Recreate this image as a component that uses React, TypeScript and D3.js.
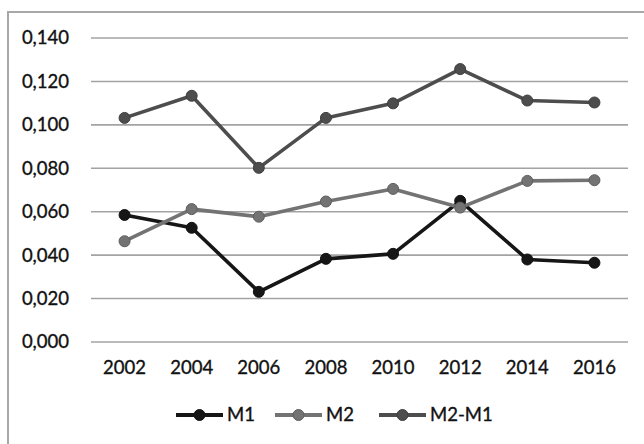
import React, { useEffect, useRef } from 'react';
import * as d3 from 'd3';

const years = ['2002', '2004', '2006', '2008', '2010', '2012', '2014', '2016'];
const m1 = [0.0585, 0.0526, 0.0231, 0.0383, 0.0406, 0.065, 0.038, 0.0365];
const m2 = [0.0464, 0.0612, 0.0577, 0.0647, 0.0705, 0.0619, 0.0742, 0.0745];
const m2m1 = [0.1032, 0.1134, 0.0802, 0.1032, 0.1099, 0.1257, 0.1112, 0.1103];
const yTicks = [0, 0.02, 0.04, 0.06, 0.08, 0.1, 0.12, 0.14];

const series = [
  { name: 'M1', values: m1, color: '#161616' },
  { name: 'M2', values: m2, color: '#737373' },
  { name: 'M2-M1', values: m2m1, color: '#4d4d4d' },
];

const LineChart: React.FC = () => {
  const svgRef = useRef<SVGSVGElement | null>(null);

  useEffect(() => {
    const svg = d3.select(svgRef.current);
    svg.selectAll('*').remove();
    const width = 644;
    const height = 444;
    const margin = { top: 38, right: 16, bottom: 105, left: 91 };
    const font = 'Lato, "Open Sans", sans-serif';

    svg.append('rect').attr('width', width).attr('height', height).attr('fill', '#fff');
    // chart border (only top and left visible)
    svg
      .append('rect')
      .attr('x', 8)
      .attr('y', 12)
      .attr('width', width + 20)
      .attr('height', height + 20)
      .attr('fill', 'none')
      .attr('stroke', '#a8a8a8')
      .attr('stroke-width', 2);

    const x = d3
      .scaleBand()
      .domain(years)
      .range([margin.left, width - margin.right]);

    const y = d3
      .scaleLinear()
      .domain([0, 0.14])
      .range([height - margin.bottom + 3, margin.top]);

    const fmt = (v: number) => v.toFixed(3).replace('.', ',');

    const label = (sel: d3.Selection<SVGTextElement, any, any, any>) =>
      sel
        .attr('font-family', font)
        .attr('font-size', 18.5)
        .attr('fill', '#111')
        .attr('stroke', '#111')
        .attr('stroke-width', 0.35);

    svg
      .append('g')
      .selectAll('line')
      .data(yTicks)
      .enter()
      .append('line')
      .attr('x1', margin.left)
      .attr('x2', width - margin.right)
      .attr('y1', d => y(d))
      .attr('y2', d => y(d))
      .attr('stroke', '#a3a3a3')
      .attr('stroke-width', 1.6);

    svg
      .append('g')
      .selectAll('text')
      .data(yTicks)
      .enter()
      .append('text')
      .attr('x', 69)
      .attr('y', d => y(d))
      .attr('dy', '0.35em')
      .attr('text-anchor', 'end')
      .call(label)
      .text(d => fmt(d));

    svg
      .append('g')
      .selectAll('text')
      .data(years)
      .enter()
      .append('text')
      .attr('x', d => x(d)! + x.bandwidth() / 2)
      .attr('y', 368)
      .attr('dy', '0.35em')
      .attr('text-anchor', 'middle')
      .call(label)
      .text(d => d);

    const line = d3
      .line<number>()
      .x((_, i) => x(years[i])! + x.bandwidth() / 2)
      .y(d => y(d));

    series.forEach(s => {
      const g = svg.append('g');
      g.append('path')
        .attr('d', line(s.values))
        .attr('fill', 'none')
        .attr('stroke', s.color)
        .attr('stroke-width', 3.6)
        .attr('stroke-linejoin', 'round');
      g.selectAll('circle')
        .data(s.values)
        .enter()
        .append('circle')
        .attr('cx', (_, i) => x(years[i])! + x.bandwidth() / 2)
        .attr('cy', d => y(d))
        .attr('r', 5.5)
        .attr('fill', s.color)
        .attr('stroke', d3.color(s.color)!.darker(0.6).toString())
        .attr('stroke-width', 1);
    });

    // legend
    const legendY = 415;
    const itemWidths = [99, 104, 120];
    let lx = 176;
    series.forEach((s, i) => {
      const g = svg.append('g').attr('transform', `translate(${lx},${legendY})`);
      g.append('line')
        .attr('x1', 0)
        .attr('x2', 47)
        .attr('y1', 0)
        .attr('y2', 0)
        .attr('stroke', s.color)
        .attr('stroke-width', 4);
      g.append('circle')
        .attr('cx', 23.5)
        .attr('cy', 0)
        .attr('r', 5.5)
        .attr('fill', s.color)
        .attr('stroke', d3.color(s.color)!.darker(0.6).toString())
        .attr('stroke-width', 1);
      g.append('text')
        .attr('x', 51)
        .attr('y', 0)
        .attr('dy', '0.35em')
        .call(label)
        .text(s.name);
      lx += itemWidths[i];
    });
  }, []);

  return (
    <div style={{ position: 'fixed', left: 0, top: 0 }}>
      <svg ref={svgRef} width={644} height={444} style={{ display: 'block' }}></svg>
    </div>
  );
};

export default function App() {
  return <LineChart />;
}
